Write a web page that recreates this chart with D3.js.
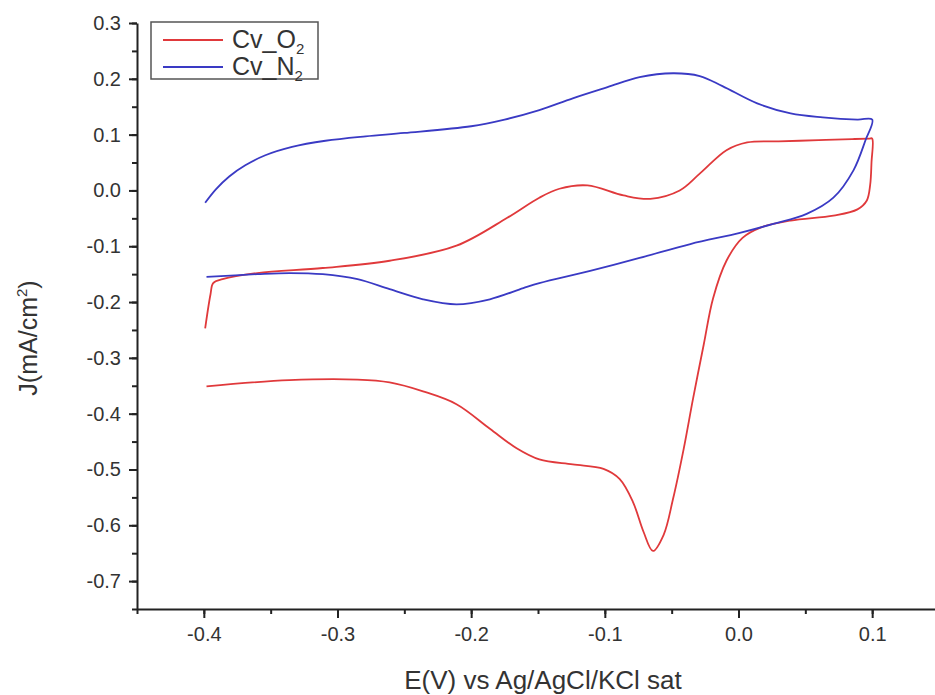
<!DOCTYPE html>
<html>
<head>
<meta charset="utf-8">
<script src="https://cdn.jsdelivr.net/npm/d3@7"></script>
<style>
  html, body { margin: 0; padding: 0; background: #fff; }
  svg { display: block; font-family: Arial, "Liberation Sans", sans-serif; }
</style>
</head>
<body>
<svg id="chart" width="935" height="695"></svg>
<script>
// Cyclic voltammograms: potential E (V vs Ag/AgCl/KCl sat) and current density J (mA/cm²)
// O2-saturated scan, in sweep order
const o2E = [-0.398, -0.336, -0.285, -0.261, -0.236, -0.211, -0.186, -0.166, -0.149, -0.124,
  -0.101, -0.089, -0.079, -0.071, -0.064, -0.056, -0.049, -0.041, -0.034, -0.026,
  -0.019, -0.009, 0.003, 0.016, 0.039, 0.071, 0.089, 0.096, 0.0985, 0.0995, 0.100,
  0.098, 0.085, 0.060, 0.030, 0.0065, -0.009, -0.029, -0.044, -0.066, -0.086, -0.113, -0.134,
  -0.149, -0.173, -0.211, -0.261, -0.311, -0.360, -0.386, -0.393, -0.395, -0.399];
const o2J = [-0.351, -0.340, -0.339, -0.344, -0.360, -0.383, -0.427, -0.462, -0.482, -0.491,
  -0.499, -0.517, -0.558, -0.612, -0.646, -0.617, -0.553, -0.463, -0.373, -0.276,
  -0.193, -0.126, -0.085, -0.067, -0.054, -0.045, -0.034, -0.018, 0.010, 0.050, 0.093,
  0.093, 0.092, 0.090, 0.088, 0.086, 0.072, 0.030, 0.000, -0.015, -0.009, 0.009, 0.003,
  -0.013, -0.049, -0.099, -0.126, -0.139, -0.148, -0.159, -0.166, -0.186, -0.247];

// N2-saturated scan, in sweep order
const n2E = [-0.399, -0.391, -0.381, -0.369, -0.354, -0.334, -0.309, -0.279, -0.250,
  -0.200, -0.175, -0.149, -0.124, -0.098, -0.074, -0.049, -0.029, -0.012, 0.014,
  0.039, 0.063, 0.089, 0.100, 0.095, 0.086, 0.071, 0.051, 0.026, 0.001,
  -0.036, -0.074, -0.111, -0.149, -0.161, -0.186, -0.211, -0.236, -0.261, -0.285,
  -0.311, -0.336, -0.360, -0.398];
const n2J = [-0.022, 0.002, 0.025, 0.045, 0.063, 0.078, 0.089, 0.097, 0.103,
  0.115, 0.127, 0.144, 0.165, 0.185, 0.203, 0.210, 0.205, 0.187, 0.156,
  0.138, 0.131, 0.127, 0.127, 0.090, 0.036, -0.013, -0.042, -0.060, -0.076,
  -0.096, -0.121, -0.144, -0.166, -0.175, -0.195, -0.204, -0.195, -0.177, -0.159,
  -0.150, -0.148, -0.150, -0.155];

const seriesNames = ["Cv_O", "Cv_N"];
const seriesSubs = ["2", "2"];
const seriesColors = ["#e0393b", "#3a3ac4"];

const xTicks = [-0.4, -0.3, -0.2, -0.1, 0.0, 0.1];
const yTicks = [0.3, 0.2, 0.1, 0.0, -0.1, -0.2, -0.3, -0.4, -0.5, -0.6, -0.7];

const svg = d3.select("#chart");

const x = d3.scaleLinear().domain([-0.45, 0.15]).range([137, 939]);
const y = d3.scaleLinear().domain([-0.75, 0.3]).range([609, 23]);

// plain hyphen-minus labels, one decimal
const fmt = d => (Math.abs(d) < 1e-9 ? 0 : d).toFixed(1);
const minorX = d3.range(-0.45, 0.151, 0.05).map(v => +v.toFixed(2));
const minorY = d3.range(-0.75, 0.301, 0.05).map(v => +v.toFixed(2));

// minor ticks
svg.append("g").attr("transform", `translate(0,${y.range()[0]})`)
  .call(d3.axisBottom(x).tickValues(minorX).tickSize(5).tickFormat(""))
  .call(g => g.select(".domain").remove())
  .call(g => g.selectAll("line").attr("stroke", "#222").attr("stroke-width", 2));
svg.append("g").attr("transform", `translate(${x.range()[0]},0)`)
  .call(d3.axisLeft(y).tickValues(minorY).tickSize(5).tickFormat(""))
  .call(g => g.select(".domain").remove())
  .call(g => g.selectAll("line").attr("stroke", "#222").attr("stroke-width", 2));

// major ticks and labels
const xAxis = svg.append("g").attr("transform", `translate(0,${y.range()[0]})`)
  .call(d3.axisBottom(x).tickValues(xTicks).tickSize(9).tickSizeOuter(0).tickPadding(9).tickFormat(fmt));
const yAxis = svg.append("g").attr("transform", `translate(${x.range()[0]},0)`)
  .call(d3.axisLeft(y).tickValues(yTicks).tickSize(8).tickSizeOuter(0).tickPadding(8).tickFormat(fmt));

[xAxis, yAxis].forEach(g => {
  g.select(".domain").attr("stroke", "#222").attr("stroke-width", 2);
  g.selectAll(".tick line").attr("stroke", "#222").attr("stroke-width", 2);
  g.selectAll(".tick text").attr("fill", "#333").attr("font-size", 20)
    .attr("font-family", "Arial, 'Liberation Sans', sans-serif");
});

// curves
const line = d3.line().x(d => x(d[0])).y(d => y(d[1])).curve(d3.curveCatmullRom.alpha(0.5));
const series = [d3.zip(o2E, o2J), d3.zip(n2E, n2J)];
series.forEach((pts, i) => {
  svg.append("path").datum(pts)
    .attr("d", line)
    .attr("fill", "none")
    .attr("stroke", seriesColors[i])
    .attr("stroke-width", 1.8)
    .attr("stroke-linejoin", "round");
});

// axis titles
svg.append("text")
  .attr("x", 543).attr("y", 689)
  .attr("text-anchor", "middle")
  .attr("font-size", 26).attr("fill", "#333")
  .text("E(V) vs Ag/AgCl/KCl sat");

const yTitle = svg.append("text")
  .attr("transform", "translate(37,338) rotate(-90)")
  .attr("text-anchor", "middle")
  .attr("font-size", 25).attr("fill", "#333");
yTitle.append("tspan").text("J(mA/cm");
yTitle.append("tspan").attr("font-size", 15).attr("dy", -10).text("2");
yTitle.append("tspan").attr("dy", 10).text(")");

// legend
const legend = svg.append("g");
legend.append("rect")
  .attr("x", 151).attr("y", 22).attr("width", 167).attr("height", 57)
  .attr("fill", "#fff").attr("stroke", "#555").attr("stroke-width", 1.5);
seriesNames.forEach((name, i) => {
  const cy = 40 + i * 27;
  legend.append("line")
    .attr("x1", 163).attr("x2", 223).attr("y1", cy).attr("y2", cy)
    .attr("stroke", seriesColors[i]).attr("stroke-width", 1.8);
  const t = legend.append("text")
    .attr("x", 232).attr("y", cy + 8)
    .attr("font-size", 25).attr("fill", "#333");
  t.append("tspan").text(name);
  t.append("tspan").attr("font-size", 15).attr("dy", 6).text(seriesSubs[i]);
});
</script>
</body>
</html>
